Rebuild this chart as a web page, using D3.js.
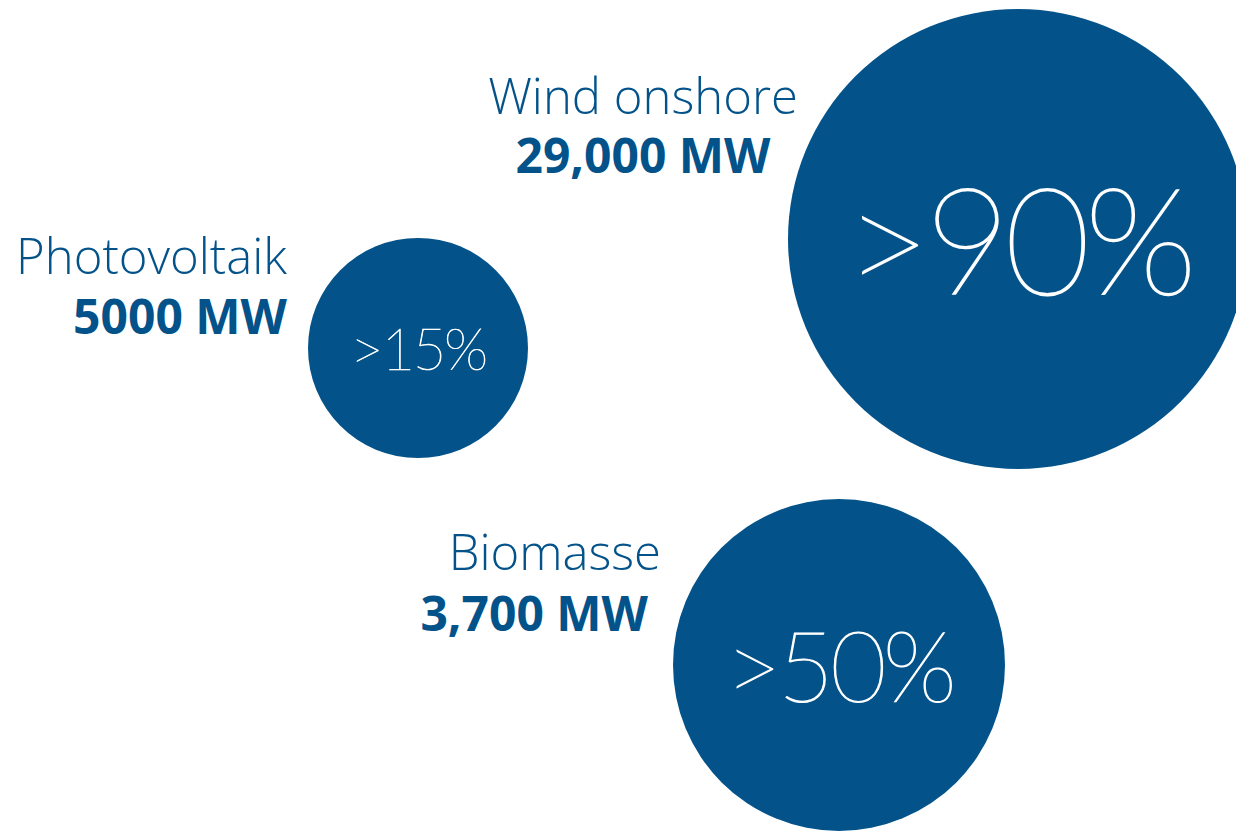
<!DOCTYPE html>
<html>
<head>
<meta charset="utf-8">
<script src="https://cdn.jsdelivr.net/npm/d3@7"></script>
<style>
  html, body { margin: 0; padding: 0; background: #ffffff; }
  svg { display: block; }
</style>
</head>
<body>
<script>
// ---- data ----
const categories = ["Wind onshore", "Photovoltaik", "Biomasse"];
const capacities = ["29,000 MW", "5000 MW", "3,700 MW"];
const shareValues = [90, 15, 50];
const shareLabels = [">90%", ">15%", ">50%"];

// ---- layout (not data) ----
const W = 1236, H = 834;
const blue = "#03538a";
const centers = [[1018, 239], [418, 348], [839, 665]];
// label anchors: [nameX, nameBaseline, valueX, valueBaseline, anchor]
const labelAnchors = [
  [643, 114, 643, 173, "middle"],
  [287, 274, 287, 334, "end"],
  [661, 570, 648, 631, "end"]
];

const rScale = d3.scaleLinear().domain([15, 90]).range([110, 230]);
const fontSize = d3.scaleLinear().domain([110, 170, 230]).range([58, 100, 148]);

const data = categories.map((c, i) => ({
  name: c, cap: capacities[i], v: shareValues[i], lbl: shareLabels[i],
  cx: centers[i][0], cy: centers[i][1], la: labelAnchors[i]
}));

const svg = d3.select("body").append("svg").attr("width", W).attr("height", H);

const g = svg.selectAll("g.bubble").data(data).join("g").attr("class", "bubble");

g.append("circle")
  .attr("cx", d => d.cx).attr("cy", d => d.cy)
  .attr("r", d => rScale(d.v))
  .attr("fill", blue);

g.append("text")
  .attr("x", d => d.cx)
  .attr("y", d => d.cy + fontSize(rScale(d.v)) * 0.38)
  .attr("text-anchor", "middle")
  .attr("fill", "#ffffff")
  .attr("stroke", "#ffffff")
  .attr("stroke-width", d => fontSize(rScale(d.v)) * 0.012)
  .attr("font-family", "Lato, 'Open Sans', sans-serif")
  .attr("font-weight", 200)
  .attr("font-size", d => fontSize(rScale(d.v)))
  .attr("letter-spacing", "-0.04em")
  .text(d => d.lbl);

g.append("text")
  .attr("x", d => d.la[0]).attr("y", d => d.la[1])
  .attr("text-anchor", d => d.la[4])
  .attr("fill", blue)
  .attr("font-family", "'Open Sans', Lato, sans-serif")
  .attr("font-weight", 300)
  .attr("font-size", 49)
  .text(d => d.name);

g.append("text")
  .attr("x", d => d.la[2]).attr("y", d => d.la[3])
  .attr("text-anchor", d => d.la[4])
  .attr("fill", blue)
  .attr("font-family", "'Open Sans', Lato, sans-serif")
  .attr("font-weight", 700)
  .attr("font-size", 48)
  .text(d => d.cap);
</script>
</body>
</html>
